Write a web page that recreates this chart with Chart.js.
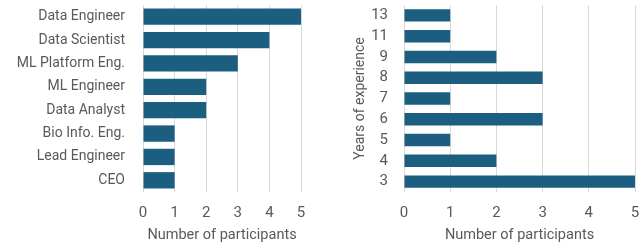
<!DOCTYPE html>
<html>
<head>
<meta charset="utf-8">
<script src="https://cdn.jsdelivr.net/npm/chart.js@4/dist/chart.umd.min.js"></script>
<style>
  html, body { margin: 0; padding: 0; background: #fff; }
  #wrap { position: relative; width: 641px; height: 248px; }
  .box { position: absolute; top: 0; height: 248px; }
</style>
</head>
<body>
<div id="wrap">
  <div class="box" style="left:0;width:330px"><canvas id="roleChart"></canvas></div>
  <div class="box" style="left:330px;width:311px"><canvas id="yearChart"></canvas></div>
</div>
<script>
// data
const roles = ['Data Engineer', 'Data Scientist', 'ML Platform Eng.', 'ML Engineer', 'Data Analyst', 'Bio Info. Eng.', 'Lead Engineer', 'CEO'];
const roleCounts = [5, 4, 3, 2, 2, 1, 1, 1];

const years = ['13', '11', '9', '8', '7', '6', '5', '4', '3'];
const yearCounts = [1, 1, 2, 3, 1, 3, 1, 2, 5];

const xTicks = [0, 1, 2, 3, 4, 5];
const xTitle = 'Number of participants';
const yTitle = 'Years of experience';

const barColor = '#1b5e80';
const textColor = '#595959';
const gridColor = '#d9d9d9';
const fontFamily = "Roboto, 'Liberation Sans', sans-serif";

function makeChart(id, labels, values, opts) {
    const ctx = document.getElementById(id).getContext('2d');
    return new Chart(ctx, {
        type: 'bar',
        data: {
            labels: labels,
            datasets: [{
                data: values,
                backgroundColor: barColor,
                borderWidth: 0,
                categoryPercentage: 1,
                barPercentage: opts.barPct
            }]
        },
        options: {
            indexAxis: 'y',
            responsive: true,
            maintainAspectRatio: false,
            animation: false,
            layout: { padding: { top: 5, right: opts.padRight, bottom: 0, left: 0 } },
            plugins: { legend: { display: false }, tooltip: { enabled: false } },
            scales: {
                x: {
                    min: 0, max: 5,
                    afterBuildTicks: s => { s.ticks = xTicks.map(v => ({ value: v })); },
                    afterFit: s => { s.height = 56; s.paddingLeft = 0; s.paddingRight = 0; },
                    grid: { color: gridColor, lineWidth: 1, drawTicks: false },
                    border: { display: false },
                    ticks: { color: textColor, font: { family: fontFamily, size: 15 }, padding: 12 },
                    title: { display: true, text: xTitle, color: textColor, font: { family: fontFamily, size: 14.5 }, padding: { top: 3, bottom: 4 } }
                },
                y: {
                    afterFit: s => { s.width = opts.yWidth; s.paddingTop = 0; s.paddingBottom = 0; },
                    grid: { display: false, drawTicks: false },
                    border: { display: false },
                    ticks: { color: textColor, font: { family: fontFamily, size: opts.yFont }, padding: opts.yPad, autoSkip: false },
                    title: { display: !!opts.yTitle, text: opts.yTitle || '', color: textColor, font: { family: fontFamily, size: 14 }, padding: { top: 22, bottom: 0 } }
                }
            }
        }
    });
}

makeChart('roleChart', roles, roleCounts, { barPct: 0.7, padRight: 29, yWidth: 143, yFont: 14, yPad: 18 });
makeChart('yearChart', years, yearCounts, { barPct: 0.6, padRight: 6, yWidth: 74, yFont: 15, yPad: 16, yTitle: yTitle });
</script>
</body>
</html>
